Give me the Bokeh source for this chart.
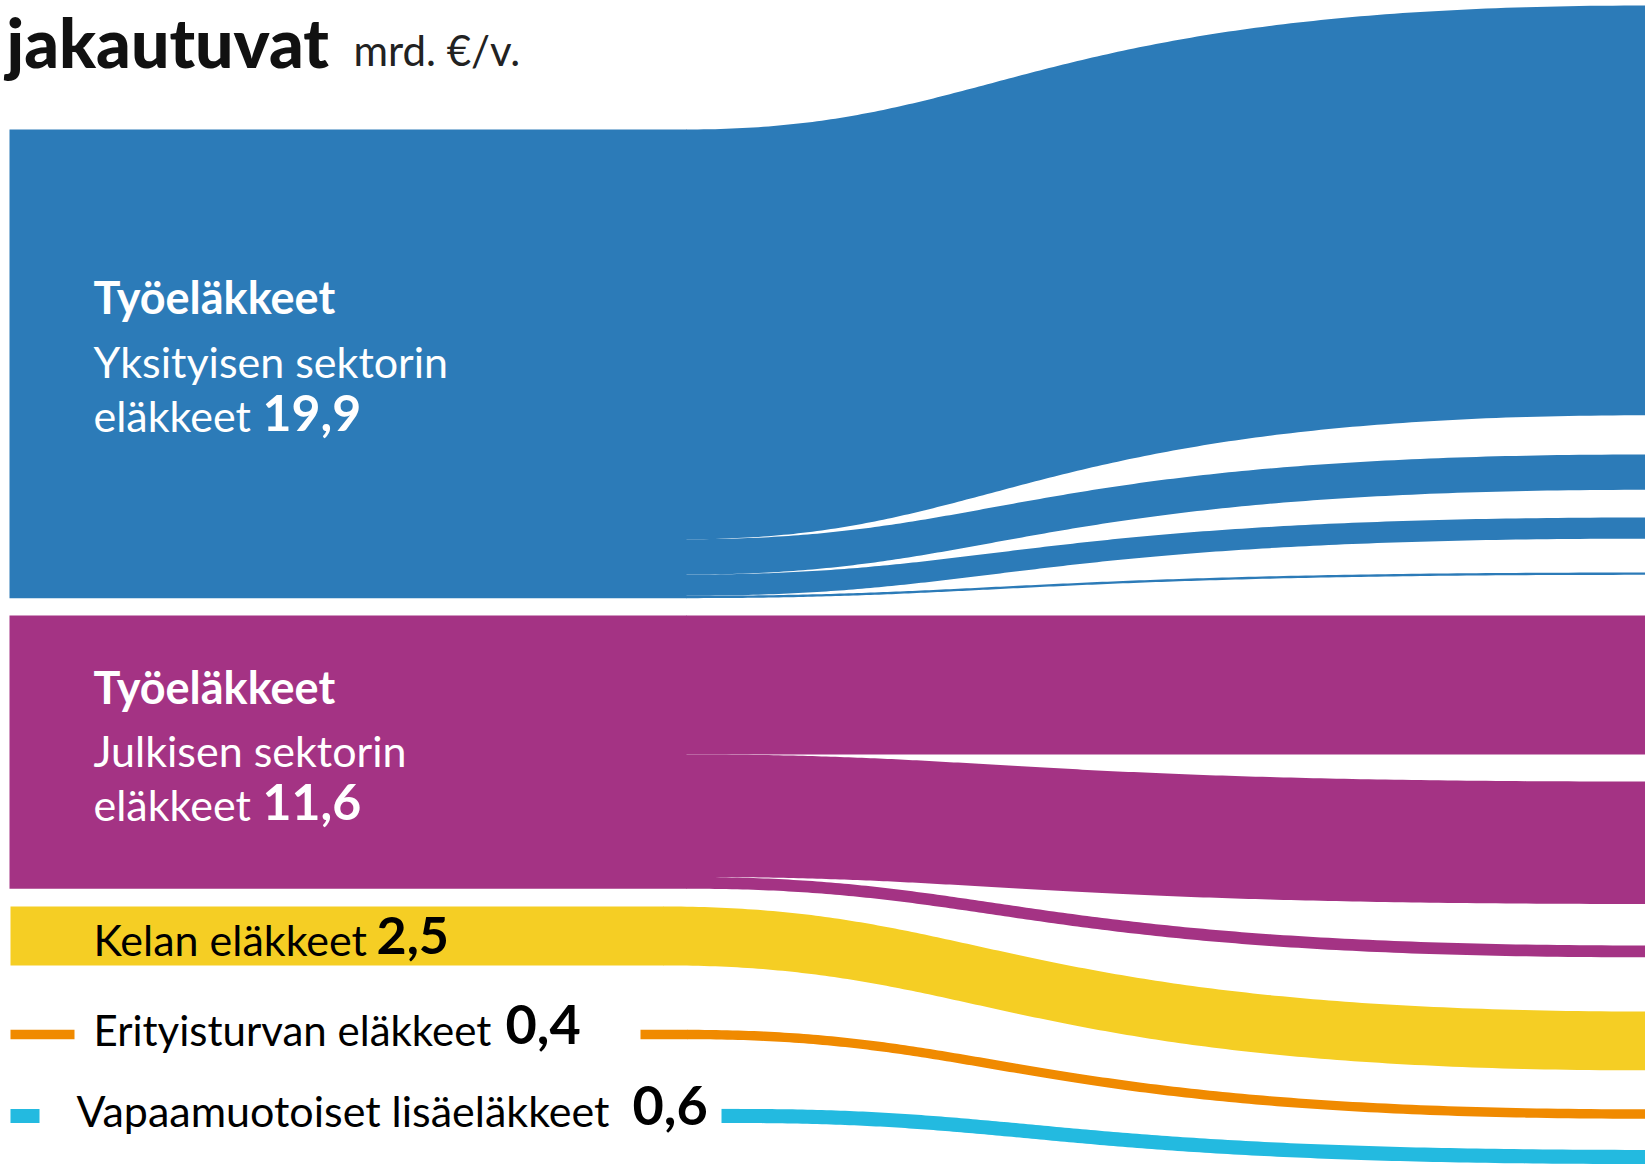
import numpy as np
from bokeh.plotting import figure
from bokeh.models import Range1d
from bokeh.core.properties import value
from bokeh.embed import file_html
from bokeh.resources import INLINE

# ---------------- data ----------------
title_word = "jakautuvat"
title_unit = "mrd. €/v."
group_word = "Työeläkkeet"
source_names = ["Yksityisen sektorin eläkkeet", "Julkisen sektorin eläkkeet",
                "Kelan eläkkeet", "Erityisturvan eläkkeet", "Vapaamuotoiset lisäeläkkeet"]
source_values = [19.9, 11.6, 2.5, 0.4, 0.6]
value_labels = ["19,9", "11,6", "2,5", "0,4", "0,6"]
# flows leaving each source (stacked top to bottom), mrd. €/v.
flow_source = [0, 0, 0, 0, 1, 1, 1, 2, 3, 4]
flow_values = [17.4, 1.5, 0.9, 0.1, 5.9, 5.2, 0.5, 2.5, 0.4, 0.6]

# ---------------- layout / style ----------------
W, H = 1645, 1167
K = 23.55                      # px per mrd. €
colors = ["#2C7BB8", "#A43384", "#F5CE24", "#F08A00", "#23BAE0"]
node_top = [129, 615, 906, 1029.3, 1108.4]
node_x0 = [9, 9, 10, 640, 721]
node_x1 = [686, 686, 663, 687, 739]
target_top = [5, 454, 517, 572, 615, 781, 945, 1011, 1108.8, 1149.4]
X_TARGET = 1645
A_HANDLE, C_HANDLE = 0.33, 0.35   # link curve shape (control x as fraction of run)

p = figure(width=W, height=H, x_range=Range1d(0, W), y_range=Range1d(H, 0),
           output_backend="svg", toolbar_location=None, min_border=0,
           x_axis_location=None, y_axis_location=None)
p.grid.visible = False
p.outline_line_color = None
p.background_fill_color = "white"
p.border_fill_color = "white"

# source nodes
p.quad(left=node_x0, right=node_x1, top=node_top,
       bottom=[t + v * K for t, v in zip(node_top, source_values)],
       fill_color=colors, line_color=None)
# small legend markers for the two thin flows
p.quad(left=[10, 10], right=[74, 39],
       top=[node_top[3], node_top[4]],
       bottom=[node_top[3] + source_values[3] * K, node_top[4] + source_values[4] * K],
       fill_color=[colors[3], colors[4]], line_color=None)


def edge(xs, ys, xt, yt, n=160):
    t = np.linspace(0, 1, n)
    L = xt - xs
    cx0, cx1 = xs + A_HANDLE * L, xs + C_HANDLE * L
    mt = 1 - t
    x = mt**3 * xs + 3 * mt**2 * t * cx0 + 3 * mt * t**2 * cx1 + t**3 * xt
    y = mt**3 * ys + 3 * mt**2 * t * ys + 3 * mt * t**2 * yt + t**3 * yt
    return x, y


offs = [0.0] * len(source_values)
pxs, pys, pcs = [], [], []
for i, (s, v) in enumerate(zip(flow_source, flow_values)):
    w = v * K
    ys_top = node_top[s] + offs[s]
    offs[s] += w
    yt_top = target_top[i]
    xa, ya = edge(node_x1[s] - 0.5, ys_top, X_TARGET + 2, yt_top)
    xb, yb = edge(node_x1[s] - 0.5, ys_top + w, X_TARGET + 2, yt_top + w)
    pxs.append(list(xa) + list(xb[::-1]))
    pys.append(list(ya) + list(yb[::-1]))
    pcs.append(colors[s])

p.patches(xs=pxs, ys=pys, fill_color=pcs, line_color=None)

FONT = value("Lato")


def txt(x, y, t, size, bold=False, color="black", font=FONT):
    # y is the wanted alphabetic baseline; compensate the renderer's offset
    p.text(x=[x], y=[y - 0.4 * size], text=[t], text_font=font, text_font_size=f"{size}px",
           text_font_style="bold" if bold else "normal", text_color=color,
           text_baseline="alphabetic", text_align="left")


# title
txt(6, 68, title_word, 68, True, "#111111", value("Lato Black"))
txt(353, 66, title_unit, 42, False, "#222222")

# blue node label
txt(93, 314, group_word, 45, True, "white")
txt(93, 378, source_names[0].rsplit(" ", 1)[0], 43, False, "white")
txt(93, 432, source_names[0].rsplit(" ", 1)[1], 43, False, "white")
txt(262, 432, value_labels[0], 50, True, "white")

# purple node label
txt(93, 704, group_word, 45, True, "white")
txt(93, 767, source_names[1].rsplit(" ", 1)[0], 43, False, "white")
txt(93, 821, source_names[1].rsplit(" ", 1)[1], 43, False, "white")
txt(262, 821, value_labels[1], 50, True, "white")

# Kela
txt(93, 956, source_names[2], 43, False, "black")
txt(376, 956, value_labels[2], 52, True, "black")
# Erityisturva
txt(93, 1046, source_names[3], 42, False, "black")
txt(505, 1046, value_labels[3], 54, True, "black")
# Vapaamuotoiset
txt(76, 1127, source_names[4], 43, False, "black")
txt(632, 1127, value_labels[4], 54, True, "black")

open("out.html", "w").write(file_html(p, INLINE))
